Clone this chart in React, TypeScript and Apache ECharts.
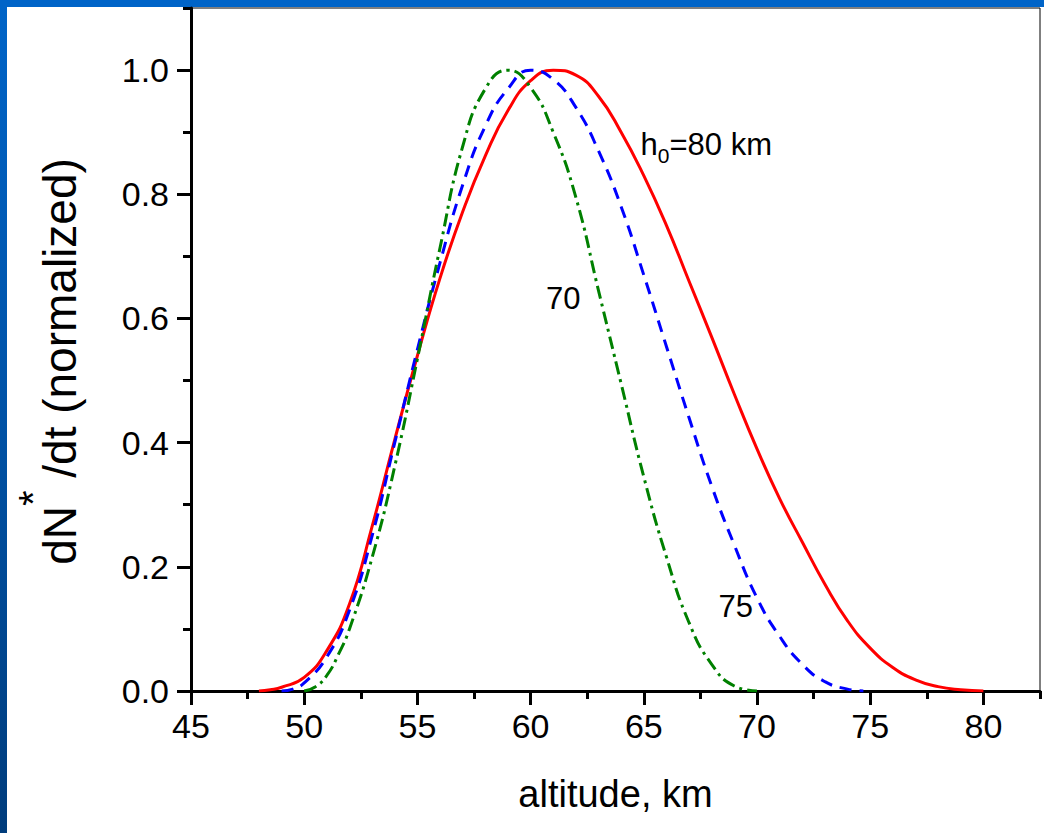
import { useEffect, useRef } from "react";
import * as echarts from "echarts";

// Axis tick positions
const altitudeTicks = [45, 50, 55, 60, 65, 70, 75, 80];
const rateTicks = [0, 0.2, 0.4, 0.6, 0.8, 1.0];

// h0 = 80 km
const altH80 = [48, 48.5, 49, 50, 51, 52, 53, 54, 55, 56, 57, 58, 59, 60, 61, 62, 63, 64, 65, 66, 67, 68, 69, 70, 71, 72, 73, 74, 75, 76, 77, 78, 79, 80];
const rateH80 = [0, 0.002, 0.006, 0.022, 0.065, 0.14, 0.265, 0.405, 0.54, 0.665, 0.772, 0.862, 0.935, 0.983, 1.0, 0.992, 0.958, 0.9, 0.83, 0.75, 0.66, 0.57, 0.478, 0.39, 0.31, 0.24, 0.172, 0.113, 0.069, 0.038, 0.018, 0.007, 0.002, 0];

// h0 = 75 km
const altH75 = [49, 49.5, 50, 51, 52, 53, 54, 55, 56, 57, 58, 59, 60, 61, 62, 63, 64, 65, 66, 67, 68, 69, 70, 71, 72, 73, 74, 74.7];
const rateH75 = [0, 0.003, 0.013, 0.055, 0.13, 0.25, 0.4, 0.55, 0.69, 0.815, 0.91, 0.97, 1.0, 0.985, 0.94, 0.87, 0.78, 0.67, 0.555, 0.44, 0.33, 0.235, 0.15, 0.088, 0.043, 0.015, 0.003, 0];

// h0 = 70 km
const altH70 = [50, 50.5, 51, 51.5, 52, 53, 54, 55, 56, 57, 58, 59, 60, 61, 62, 63, 64, 65, 66, 67, 68, 69, 70];
const rateH70 = [0, 0.007, 0.025, 0.058, 0.1, 0.215, 0.362, 0.535, 0.714, 0.877, 0.97, 1.0, 0.972, 0.9, 0.795, 0.645, 0.495, 0.345, 0.216, 0.11, 0.043, 0.008, 0];

const FONT = "'Liberation Sans', Arial, Helvetica, sans-serif";

const pairs = (xs: number[], ys: number[]) => xs.map((x, i) => [x, ys[i]]);

const curveLabel = (coord: number[], text: string) => ({
  symbol: "circle",
  symbolSize: 1,
  itemStyle: { color: "rgba(0,0,0,0)" },
  data: [
    {
      coord,
      label: {
        show: true,
        position: "inside",
        formatter: text,
        color: "#000",
        fontFamily: FONT,
        fontSize: 31,
        rich: {
          sub: { fontSize: 21, fontFamily: FONT, color: "#000", padding: [22, 0, 0, 0] },
        },
      },
    },
  ],
});

export default function App() {
  const ref = useRef<HTMLDivElement>(null);

  useEffect(() => {
    const chart = echarts.init(ref.current!, undefined, { renderer: "svg", width: 1044, height: 833 });
    const axisColor = "#000";
    chart.setOption({
      animation: false,
      grid: {
        left: 191,
        right: 4,
        top: 8,
        bottom: 142,
        show: true,
        borderColor: "#000",
        borderWidth: 1,
        backgroundColor: "transparent",
      },
      xAxis: {
        type: "value",
        min: 45,
        max: 82.501,
        interval: 5,
        name: "altitude, km",
        nameLocation: "middle",
        nameGap: 84,
        nameTextStyle: { fontFamily: FONT, fontSize: 38, color: "#000" },
        axisLine: { lineStyle: { color: axisColor, width: 3 } },
        axisTick: { length: 14, lineStyle: { color: axisColor, width: 3 }, customValues: altitudeTicks },
        minorTick: { show: true, splitNumber: 2, length: 8, lineStyle: { color: axisColor, width: 3 } },
        axisLabel: { customValues: altitudeTicks, fontFamily: FONT, fontSize: 34, color: "#000", margin: 18 },
        splitLine: { show: false },
        minorSplitLine: { show: false },
      },
      yAxis: {
        type: "value",
        min: 0,
        max: 1.1001,
        interval: 0.2,
        name: "dN{s|*} /dt (normalized)",
        nameLocation: "middle",
        nameGap: 84,
        nameTextStyle: {
          fontFamily: FONT,
          fontSize: 46,
          color: "#000",
          padding: [0, 24, 0, 0],
          rich: {
            s: { fontFamily: FONT, fontSize: 40, color: "#000", padding: [0, 0, 54, 0] },
          },
        },
        axisLine: { lineStyle: { color: axisColor, width: 3 } },
        axisTick: { length: 14, lineStyle: { color: axisColor, width: 3 }, customValues: rateTicks },
        minorTick: { show: true, splitNumber: 2, length: 8, lineStyle: { color: axisColor, width: 3 } },
        axisLabel: {
          customValues: rateTicks,
          formatter: (v: number) => v.toFixed(1),
          fontFamily: FONT,
          fontSize: 34,
          color: "#000",
          margin: 22,
        },
        splitLine: { show: false },
        minorSplitLine: { show: false },
      },
      series: [
        {
          name: "h0=80 km",
          type: "line",
          data: pairs(altH80, rateH80),
          showSymbol: false,
          smooth: true,
          lineStyle: { color: "#ff0000", width: 3 },
          markPoint: curveLabel([67.76, 0.88], "h{sub|0}=80 km"),
        },
        {
          name: "75",
          type: "line",
          data: pairs(altH75, rateH75),
          showSymbol: false,
          smooth: true,
          lineStyle: { color: "#0000ff", width: 3, type: [12, 8] },
          markPoint: curveLabel([69.06, 0.136], "75"),
        },
        {
          name: "70",
          type: "line",
          data: pairs(altH70, rateH70),
          showSymbol: false,
          smooth: true,
          lineStyle: { color: "#008000", width: 3, type: [13, 5, 3, 5] },
          markPoint: curveLabel([61.44, 0.632], "70"),
        },
      ],
    });
    return () => chart.dispose();
  }, []);

  return (
    <div
      style={{
        position: "absolute",
        left: 0,
        top: 0,
        width: 1044,
        height: 833,
        overflow: "hidden",
        background: "linear-gradient(180deg, #0064c8 0%, #0052a6 50%, #003c7c 100%)",
      }}
    >
      <div style={{ position: "absolute", left: 0, top: 0, width: 1044, height: 7, background: "#0064c8" }} />
      <div style={{ position: "absolute", left: 7, top: 7, width: 1037, height: 826, background: "#fff" }} />
      <div ref={ref} style={{ position: "absolute", left: 0, top: 0, width: 1044, height: 833 }} />
    </div>
  );
}
